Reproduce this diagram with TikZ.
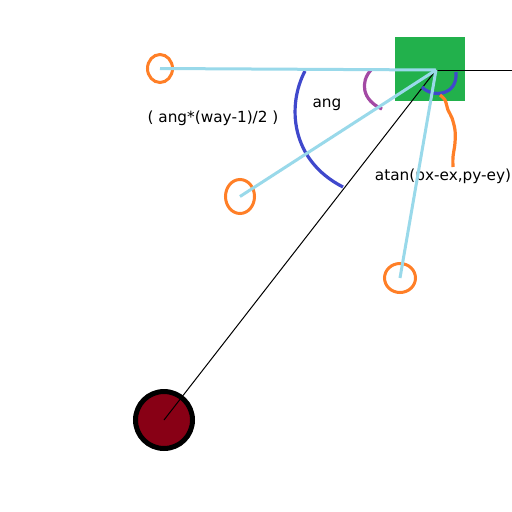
\documentclass[tikz,border=0pt]{standalone}
\usepackage{fontspec}
\setmainfont{DejaVu Sans}
\usetikzlibrary{shapes.geometric}
\definecolor{pgreen}{RGB}{34,177,76}
\definecolor{pturq}{RGB}{153,217,234}
\definecolor{pindigo}{RGB}{63,72,204}
\definecolor{ppurple}{RGB}{163,73,164}
\definecolor{porange}{RGB}{255,127,39}
\definecolor{pred}{RGB}{136,0,21}
\begin{document}
\begin{tikzpicture}[x=1pt,y=-1pt,
  ring/.style={draw=porange,line width=3pt,ellipse,inner sep=0pt},
  ray/.style={draw=pturq,line width=3pt},
  thin/.style={draw=black,line width=1pt},
  arcline/.style={line width=3.2pt},
  lbl/.style={font=\fontsize{15.3}{17}\selectfont,anchor=base,inner sep=0pt,text=black}]
\useasboundingbox (0,0) rectangle (512,512);
\fill[white] (0,0) rectangle (512,512);
% emitter
\node[fill=pgreen,minimum width=70pt,minimum height=64pt,inner sep=0pt] (sq) at (430,69) {};
\coordinate (E) at (436,70);
\coordinate (R) at (512,70);
% enemy
\node[circle,fill=pred,draw=black,line width=5pt,minimum size=57pt,inner sep=0pt] (P) at (164,420) {};
% bullets
\node[ring,minimum width=25pt,minimum height=28pt] (c1) at (160,68.5) {};
\node[ring,minimum width=29pt,minimum height=34pt] (c2) at (240,196.5) {};
\node[ring,minimum width=31pt,minimum height=29pt] (c3) at (400,278) {};
% labels
\node[lbl] (t1) at (213,122) {( ang*(way-1)/2 )};
\node[lbl] (t2) at (327,107) {ang};
\node[lbl] (t3) at (443,180) {atan(px-ex,py-ey)};
% black lines
\draw[thin] (E) -- (R);
\draw[thin] (E) -- (P.center);
% arcs
\draw[arcline,pindigo] (305,71) .. controls (287,105) and (290,160) .. (343,187);
\draw[arcline,ppurple] (371,70) .. controls (360,82) and (362,100) .. (382,109);
\draw[arcline,pindigo] (422,87) .. controls (432,98) and (458,96) .. (456,72);
\draw[arcline,porange] plot[smooth] coordinates {(440,95) (445,100) (448,110) (452,118) (455,130) (455,143) (453,157) (453,167)};
% rays
\draw[ray] (c1.center) -- (E);
\draw[ray] (c2.center) -- (E);
\draw[ray] (c3.center) -- (E);
\end{tikzpicture}
\end{document}
